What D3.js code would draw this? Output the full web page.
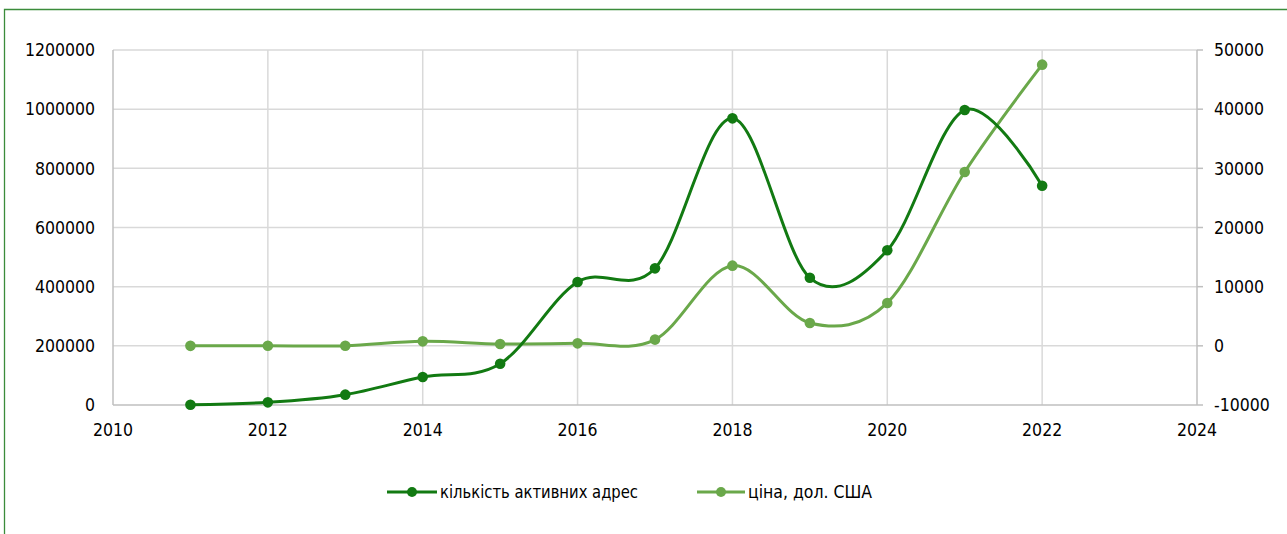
<!DOCTYPE html>
<html><head><meta charset="utf-8">
<script src="https://cdn.jsdelivr.net/npm/d3@7"></script>
<style>
html,body{margin:0;padding:0;background:#fff;}
svg{display:block;}
text{font-family:"DejaVu Sans Condensed","DejaVu Sans",sans-serif;fill:#000;}
</style></head>
<body>
<svg id="chart" width="1287" height="534"></svg>
<script>
const years = [2011,2012,2013,2014,2015,2016,2017,2018,2019,2020,2021,2022];
const activeAddresses = [1000,9000,35000,94600,139600,415800,462000,969000,430000,523000,997000,741300];
const priceUSD = [0.3,5,13,760,320,420,1050,13550,3870,7250,29390,47520];
const xTicks = [2010,2012,2014,2016,2018,2020,2022,2024];
const yLeftTicks = [0,200000,400000,600000,800000,1000000,1200000];
const yRightTicks = [-10000,0,10000,20000,30000,40000,50000];
const seriesNames = ["кількість активних адрес","ціна, дол. США"];
const colors = ["#127a12","#6aa84a"];

(function(){
const svg = d3.select("#chart");
const W = 1287, H = 534;
const pL = 113, pR = 1197, pT = 50, pB = 405;

// frame
svg.append("path").attr("d", `M4.5,${H} L4.5,9.5 L${W},9.5`)
  .attr("fill","none").attr("stroke","#3b8c3b").attr("stroke-width",1.3);

const x = d3.scaleLinear().domain([2010,2024]).range([pL,pR]);
const yL = d3.scaleLinear().domain([0,1200000]).range([pB,pT]);
const yR = d3.scaleLinear().domain([-10000,50000]).range([pB,pT]);

// horizontal gridlines
svg.append("g").selectAll("line").data(yLeftTicks.filter(d=>d>0)).join("line")
  .attr("x1",pL).attr("x2",pR).attr("y1",d=>yL(d)).attr("y2",d=>yL(d))
  .attr("stroke","#d9d9d9").attr("stroke-width",1.5);
// vertical gridlines
svg.append("g").selectAll("line").data(xTicks.filter(d=>d>2010 && d<2024)).join("line")
  .attr("x1",d=>x(d)).attr("x2",d=>x(d)).attr("y1",pT).attr("y2",pB)
  .attr("stroke","#d9d9d9").attr("stroke-width",1.5);

// axes lines
const axisColor = "#bfbfbf";
svg.append("line").attr("x1",x(2010)).attr("x2",x(2010)).attr("y1",pT).attr("y2",pB).attr("stroke",axisColor).attr("stroke-width",1.5);
svg.append("line").attr("x1",x(2024)).attr("x2",x(2024)).attr("y1",pT).attr("y2",pB).attr("stroke",axisColor).attr("stroke-width",1.5);
svg.append("line").attr("x1",pL).attr("x2",pR).attr("y1",pB).attr("y2",pB).attr("stroke",axisColor).attr("stroke-width",1.5);
// right ticks
svg.append("g").selectAll("line").data(yRightTicks).join("line")
  .attr("x1",pR).attr("x2",pR+6).attr("y1",d=>yR(d)).attr("y2",d=>yR(d))
  .attr("stroke",axisColor).attr("stroke-width",1.5);

const fs = "17.5px";
// left labels
svg.append("g").selectAll("text").data(yLeftTicks).join("text")
  .attr("x",95).attr("y",d=>yL(d)).attr("dy","0.36em").attr("text-anchor","end")
  .style("font-size",fs).text(d=>d3.format("d")(d));
// right labels
svg.append("g").selectAll("text").data(yRightTicks).join("text")
  .attr("x",1214).attr("y",d=>yR(d)).attr("dy","0.36em").attr("text-anchor","start")
  .style("font-size",fs).text(d=>String(d));
// x labels
svg.append("g").selectAll("text").data(xTicks).join("text")
  .attr("x",d=>x(d)).attr("y",430).attr("dy","0.36em").attr("text-anchor","middle")
  .style("font-size",fs).text(d=>d);

// lines
const curve = d3.curveCardinal.tension(0);
const lineL = d3.line().x((d,i)=>x(years[i])).y(d=>yL(d)).curve(curve);
const lineR = d3.line().x((d,i)=>x(years[i])).y(d=>yR(d)).curve(curve);

svg.append("path").attr("d",lineR(priceUSD)).attr("fill","none").attr("stroke",colors[1]).attr("stroke-width",3).attr("stroke-linecap","round");
svg.append("g").selectAll("circle").data(priceUSD).join("circle")
  .attr("cx",(d,i)=>x(years[i])).attr("cy",d=>yR(d)).attr("r",5.3).attr("fill",colors[1]);

svg.append("path").attr("d",lineL(activeAddresses)).attr("fill","none").attr("stroke",colors[0]).attr("stroke-width",3).attr("stroke-linecap","round");
svg.append("g").selectAll("circle").data(activeAddresses).join("circle")
  .attr("cx",(d,i)=>x(years[i])).attr("cy",d=>yL(d)).attr("r",5.3).attr("fill",colors[0]);

// legend
const legendItems = [
  {name:seriesNames[0], color:colors[0], x1:387, x2:437, tx:440, tl:198},
  {name:seriesNames[1], color:colors[1], x1:697, x2:745, tx:748, tl:124}
];
const ly = 492;
const lg = svg.append("g");
legendItems.forEach(it=>{
  lg.append("line").attr("x1",it.x1).attr("x2",it.x2).attr("y1",ly).attr("y2",ly).attr("stroke",it.color).attr("stroke-width",3);
  lg.append("circle").attr("cx",(it.x1+it.x2)/2).attr("cy",ly).attr("r",5).attr("fill",it.color);
  lg.append("text").attr("x",it.tx).attr("y",ly).attr("dy","0.36em").style("font-size",fs)
    .attr("textLength",it.tl).attr("lengthAdjust","spacingAndGlyphs").text(it.name);
});
})();
</script>
</body></html>
